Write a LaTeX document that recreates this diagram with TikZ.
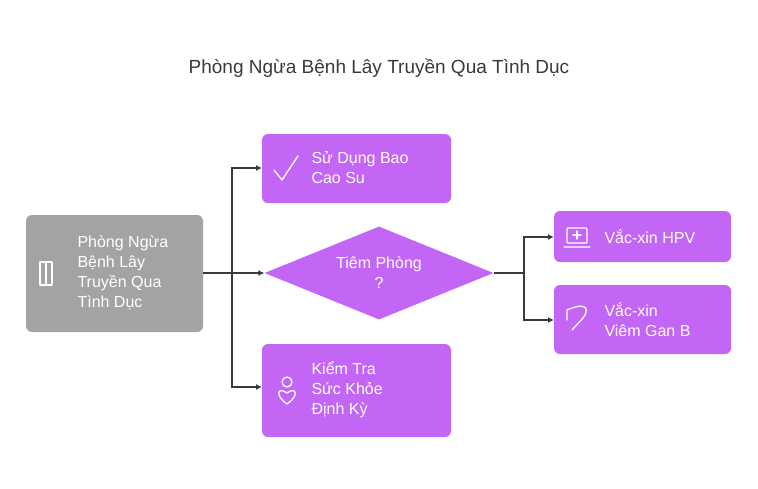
\documentclass[tikz,border=0pt]{standalone}
\usepackage{fontspec}
\setmainfont{Liberation Sans}
\usetikzlibrary{arrows.meta,shapes.geometric}
\definecolor{purp}{HTML}{C466F5}
\definecolor{greybox}{HTML}{A3A3A3}
\definecolor{line}{HTML}{3A3A3A}
\begin{document}
\begin{tikzpicture}[x=1pt,y=-1pt, > = {Latex[length=6pt,width=6pt]},
  box/.style={draw=none, rounded corners=6pt, text=white, align=left, font=\fontsize{16}{20}\selectfont},
  conn/.style={draw=line, line width=1.4pt, ->},
  icon/.style={draw=white, line width=1.3pt, line cap=round, line join=round}]
  \useasboundingbox (0,0) rectangle (758,488);
  \node (title) at (379,68) {\fontsize{19}{23}\selectfont\color{line}Phòng Ngừa Bệnh Lây Truyền Qua Tình Dục};
  % boxes
  \fill[greybox, rounded corners=6pt] (26,215) rectangle (203,332);
  \node[box, anchor=west] (main) at (74,273) {Phòng Ngừa\\Bệnh Lây\\Truyền Qua\\Tình Dục};
  \coordinate (mainR) at (203,273);
  \fill[purp, rounded corners=6pt] (262,134) rectangle (451,203);
  \node[box, anchor=west] (condom) at (308,168) {Sử Dụng Bao\\Cao Su};
  \coordinate (condomL) at (262,168);
  \node[diamond, fill=purp, minimum width=229pt, minimum height=93pt, aspect=2.46, inner sep=0pt] (vacc) at (379,273) {};
  \node[box, align=center] at (379,273) {Tiêm Phòng\\?};
  \fill[purp, rounded corners=6pt] (262,344) rectangle (451,437);
  \node[box, anchor=west] (check) at (308,390) {Kiểm Tra\\Sức Khỏe\\Định Kỳ};
  \coordinate (checkL) at (262,387);
  \fill[purp, rounded corners=6pt] (554,211) rectangle (731,262);
  \node[box, anchor=west] (hpv) at (601,237) {Vắc-xin HPV};
  \coordinate (hpvL) at (554,237);
  \fill[purp, rounded corners=6pt] (554,285) rectangle (731,354);
  \node[box, anchor=west] (hepb) at (601,320) {Vắc-xin\\Viêm Gan B};
  \coordinate (hepbL) at (554,320);
  % icons
  \draw[icon] (40,262) -- (40,285) (46,262) -- (46,285) (52,262) -- (52,285) (40,262) -- (52,262) (40,285) -- (52,285);
  \draw[icon] (274,170) -- (282,180) -- (298,156);
  \draw[icon] (287,382) circle (5);
  \draw[icon] (287,404) .. controls (275,396) and (277,386) .. (287,393) .. controls (297,386) and (299,396) .. (287,404);
  \draw[icon, rounded corners=1pt] (567,228) rectangle (587,243) (564,247) -- (590,247);
  \draw[icon] (577,231) -- (577,239) (573,235) -- (581,235);
  \draw[icon] (567,310) .. controls (590,300) and (588,312) .. (583,318) -- (572,330) (567,310) -- (567,320);
  % connectors
  \draw[conn] (mainR) -- (232,273) |- (condomL);
  \draw[conn] (232,273) |- (checkL);
  \draw[conn] (232,273) -- (vacc.west);
  \draw[conn] (vacc.east) -- (524,273) |- (hpvL);
  \draw[conn] (524,273) |- (hepbL);
\end{tikzpicture}
\end{document}
